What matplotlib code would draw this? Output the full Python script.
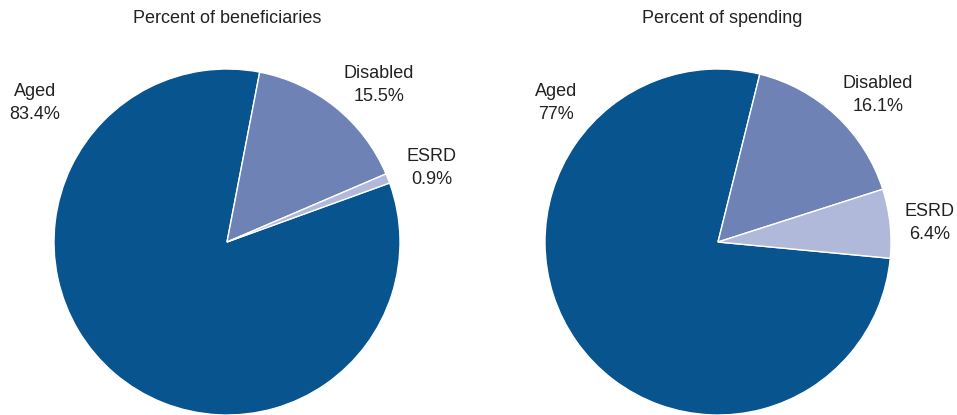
import matplotlib

matplotlib.use("Agg")
import matplotlib.pyplot as plt

groups = ["Aged", "Disabled", "ESRD"]
beneficiaries = [83.4, 15.5, 0.9]
spending = [77.0, 16.1, 6.4]
bene_labels = ["83.4%", "15.5%", "0.9%"]
spend_labels = ["77%", "16.1%", "6.4%"]
colors = ["#07548f", "#6f82b5", "#b0b9d9"]

plt.rcParams["font.family"] = ["Liberation Sans Narrow", "Liberation Sans", "DejaVu Sans"]

W, H = 957, 415
fig = plt.figure(figsize=(W / 100, H / 100), dpi=100)
ax = fig.add_axes([0, 0, 1, 1])
ax.set_xlim(0, W)
ax.set_ylim(0, H)
ax.set_aspect("equal")
ax.axis("off")

wedge = dict(edgecolor="white", linewidth=1)
R = 173

# left pie: start so Disabled begins near 80 deg, clockwise
ax.pie(beneficiaries, colors=colors, center=(227, H - 242), radius=R,
       startangle=79.7 + 360 * beneficiaries[0] / 100, counterclock=False,
       wedgeprops=wedge, frame=True)
ax.pie(spending, colors=colors, center=(718, H - 242), radius=R,
       startangle=77.4 + 360 * spending[0] / 100, counterclock=False,
       wedgeprops=wedge, frame=True)
ax.set_xlim(0, W)
ax.set_ylim(0, H)
ax.axis("off")

tcol = "#222222"
fs = 13
ax.text(227, H - 19, "Percent of beneficiaries", ha="center", va="center", fontsize=fs, color=tcol)
ax.text(722, H - 19, "Percent of spending", ha="center", va="center", fontsize=fs, color=tcol)

bene_pos = [(35, 103), (379, 85), (432, 168)]
spend_pos = [(556, 103), (878, 95), (930, 223)]
for name, lab, (x, y) in zip(groups, bene_labels, bene_pos):
    ax.text(x, H - y, f"{name}\n{lab}", ha="center", va="center", fontsize=fs,
            color=tcol, linespacing=1.45)
for name, lab, (x, y) in zip(groups, spend_labels, spend_pos):
    ax.text(x, H - y, f"{name}\n{lab}", ha="center", va="center", fontsize=fs,
            color=tcol, linespacing=1.45)

fig.savefig("out.png", dpi=100)
